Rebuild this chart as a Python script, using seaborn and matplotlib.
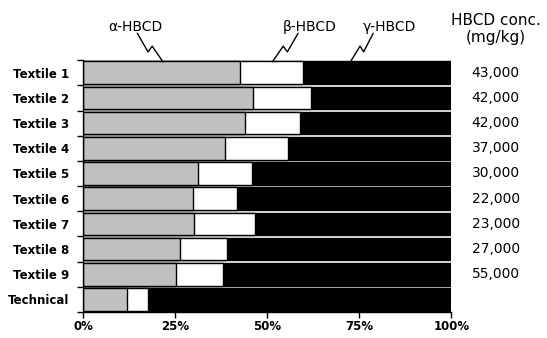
import numpy as np
import pandas as pd
import matplotlib
matplotlib.use("Agg")
import matplotlib.pyplot as plt
import seaborn as sb

samples = ["Textile 1", "Textile 2", "Textile 3", "Textile 4", "Textile 5",
           "Textile 6", "Textile 7", "Textile 8", "Textile 9", "Technical"]
alpha_pct = [42.5, 46.2, 44.0, 38.5, 31.3, 29.9, 30.2, 26.2, 25.3, 12.0]
beta_pct = [17.2, 15.7, 14.8, 17.1, 14.6, 12.0, 16.5, 13.0, 12.6, 5.6]
gamma_pct = [100 - a - b for a, b in zip(alpha_pct, beta_pct)]
conc = ["43,000", "42,000", "42,000", "37,000", "30,000",
        "22,000", "23,000", "27,000", "55,000", ""]

df = pd.DataFrame({"sample": samples, "alpha": alpha_pct, "beta": beta_pct, "gamma": gamma_pct})
df["ab"] = df["alpha"] + df["beta"]
df["total"] = df["ab"] + df["gamma"]

sb.set_style("white")
plt.rcParams["font.family"] = ["DejaVu Sans"]
plt.rcParams["text.color"] = "black"
plt.rcParams["xtick.color"] = "black"
plt.rcParams["ytick.color"] = "black"

fig = plt.figure(figsize=(5.47, 3.38), dpi=100)
ax = fig.add_axes([0.152, 0.077, 0.673, 0.745])

kw = dict(y="sample", orient="h", width=0.9, edgecolor="black", linewidth=1, ax=ax)
sb.barplot(data=df, x="total", color="black", **kw)
sb.barplot(data=df, x="ab", color="white", **kw)
sb.barplot(data=df, x="alpha", color="#c0c0c0", **kw)

ax.set_xlim(0, 100)
ax.set_ylim(len(samples) - 0.5, -0.5)
ax.set_xticks([0, 25, 50, 75, 100])
ax.set_xticklabels(["0%", "25%", "50%", "75%", "100%"], fontsize=8.5, fontweight="bold")
ax.set_xlabel("")
ax.set_ylabel("")
ax.set_yticks(range(len(samples)))
ax.set_yticklabels(samples, fontsize=8.5, fontweight="bold")
ax.tick_params(axis="y", which="major", length=0, pad=10)
ax.set_yticks(np.arange(-0.5, len(samples), 1), minor=True)
ax.tick_params(axis="y", which="minor", length=4, width=1, direction="out", left=True)
ax.tick_params(axis="x", length=4, width=1, direction="out", bottom=True, pad=2)
for s in ["top", "right"]:
    ax.spines[s].set_visible(False)
for s in ["left", "bottom"]:
    ax.spines[s].set_color("black")
    ax.spines[s].set_linewidth(1)

# concentrations on the right
trans = matplotlib.transforms.blended_transform_factory(fig.transFigure, ax.transData)
for i, c in enumerate(conc):
    ax.text(0.906, i, c, transform=trans, ha="center", va="center", fontsize=10)
fig.text(0.906, 0.938, "HBCD conc.", ha="center", va="center", fontsize=11)
fig.text(0.906, 0.888, "(mg/kg)", ha="center", va="center", fontsize=11)

# isomer labels with zigzag leaders
def leader(x0, x1, label, lx):
    y0, y1 = -1.57, -0.43
    fx = np.array([0, 0.42, 0.58, 1])
    fy = np.array([0, 0.65, 0.45, 1])
    ax.plot(x0 + (x1 - x0) * fx, y0 + (y1 - y0) * fy, color="black", lw=1,
            solid_joinstyle="round", clip_on=False)
    ax.text(lx, -1.80, label, ha="center", va="center", fontsize=10)

leader(14.7, 21.7, "\u03b1-HBCD", 14.3)
leader(58.4, 51.4, "\u03b2-HBCD", 61.5)
leader(78.8, 72.6, "\u03b3-HBCD", 83.2)

fig.savefig("out.png", dpi=100)
